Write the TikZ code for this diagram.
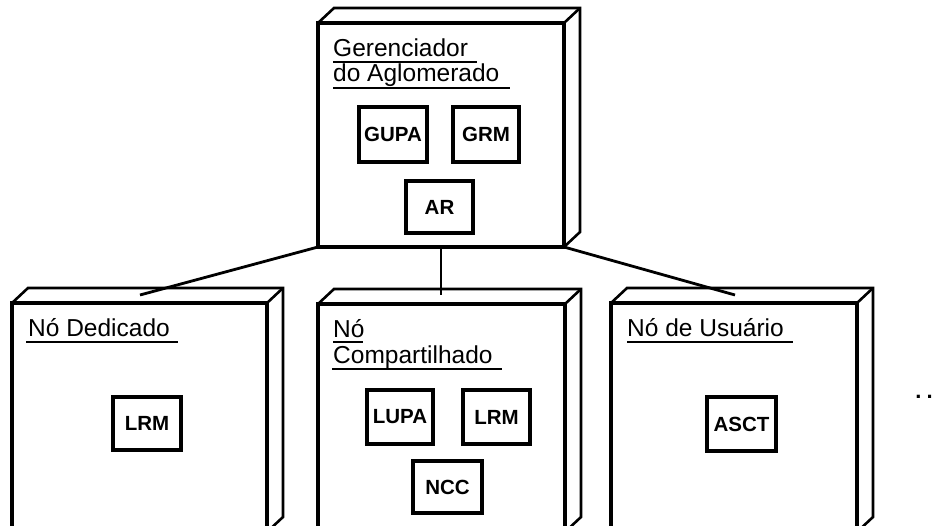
\documentclass[tikz,border=0pt]{standalone}
\usepackage{fontspec}
\setmainfont{Liberation Sans}
\usetikzlibrary{calc}
\newcommand\backfaces[1]{%
  \draw[backedge] (#1.north west) -- ++(16,-15) -| ($(#1.south east)+(16,-15)$) -- (#1.south east);
  \draw[backedge] (#1.north east) -- ++(16,-15);}
\begin{document}
\begin{tikzpicture}[x=1pt,y=-1pt,
  nodebox/.style={draw, line width=3.5pt, outer sep=0pt, inner sep=0pt, fill=white},
  backedge/.style={line width=2.6pt, line join=miter},
  comp/.style={draw, line width=3.5pt, outer sep=0pt, inner sep=0pt, font=\fontsize{20.5}{23}\selectfont\bfseries},
  ttl/.style={anchor=base west, inner sep=0pt, font=\fontsize{24.5}{27}\selectfont},
  uline/.style={line width=2.4pt},
  conn/.style={line width=2.8pt}]
\useasboundingbox (0,0) rectangle (934,526);
\clip (0,0) rectangle (934,526);
% connector end points on the top faces
\coordinate (dtop) at (140,295);
\coordinate (ctop) at (441,295);
\coordinate (utop) at (735,295);
% boxes (front faces)
\node[nodebox, minimum width=246, minimum height=224] (top) at (441,135) {};
\node[nodebox, minimum width=255, minimum height=229] (ded) at (139.5,417.5) {};
\node[nodebox, minimum width=247, minimum height=228] (cmp) at (441.5,418) {};
\node[nodebox, minimum width=246, minimum height=229] (usr) at (734,417.5) {};
\backfaces{top}
\backfaces{ded}
\backfaces{cmp}
\backfaces{usr}
% connectors
\draw[conn] (top.south west) -- (dtop);
\draw[conn] (top.south) -- (ctop);
\draw[conn] (top.south east) -- (utop);
% titles
\node[ttl] (t1) at (333,57) {Gerenciador};
\node[ttl] (t2) at (333,82) {do Aglomerado};
\draw[uline] ($(t1.base west)+(0,5)$) -- ++(144,0);
\draw[uline] ($(t2.base west)+(0,6)$) -- ++(177,0);
\node[ttl] (t3) at (28,337) {Nó Dedicado};
\draw[uline] ($(t3.base west)+(-2,5)$) -- ++(152,0);
\node[ttl] (t4) at (333,338) {Nó};
\node[ttl] (t5) at (333,363) {Compartilhado};
\draw[uline] ($(t4.base west)+(0,4)$) -- ++(30,0);
\draw[uline] ($(t5.base west)+(-1,6)$) -- ++(170,0);
\node[ttl] (t6) at (627,337) {Nó de Usuário};
\draw[uline] ($(t6.base west)+(0,5)$) -- ++(166,0);
% components
\node[comp, minimum width=68, minimum height=55] (gupa) at (393,134.5) {GUPA};
\node[comp, minimum width=66, minimum height=55] (grm) at (486,134.5) {GRM};
\node[comp, minimum width=67, minimum height=52] (ar) at (439.5,207) {AR};
\node[comp, minimum width=68, minimum height=53] (lrm1) at (147,423.5) {LRM};
\node[comp, minimum width=66, minimum height=54] (lupa) at (400,417) {LUPA};
\node[comp, minimum width=67, minimum height=54] (lrm2) at (496.5,417) {LRM};
\node[comp, minimum width=69, minimum height=52] (ncc) at (447.5,487) {NCC};
\node[comp, minimum width=69, minimum height=54] (asct) at (741.5,424) {ASCT};
% continuation dots
\node[inner sep=0pt, anchor=base, font=\fontsize{22}{24}\selectfont\bfseries] (dots) at (924,399) {.\kern5pt.};
\end{tikzpicture}
\end{document}
